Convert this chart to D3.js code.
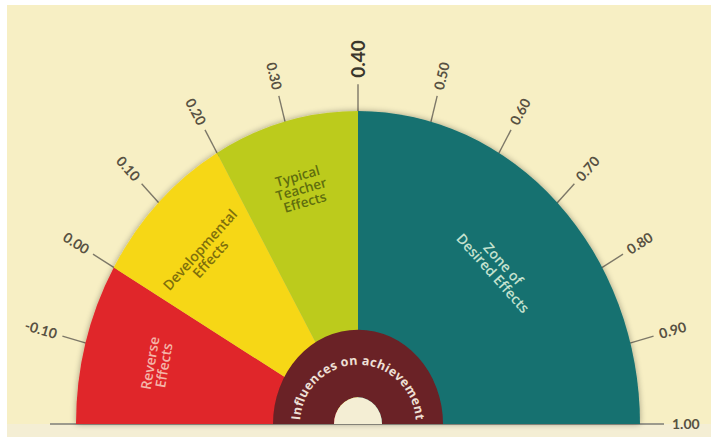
<!DOCTYPE html>
<html>
<head>
<meta charset="utf-8">
<script src="https://cdn.jsdelivr.net/npm/d3@7"></script>
<style>
  html, body { margin: 0; padding: 0; background: #ffffff; }
  svg { display: block; }
</style>
</head>
<body>
<svg id="chart" width="711" height="437"></svg>
<script>
// ---- data ----
const zoneNames = [["Reverse", "Effects"], ["Developmental", "Effects"], ["Typical", "Teacher", "Effects"], ["Zone of", "Desired Effects"]];
const zoneStart = [-0.2, 0.0, 0.2, 0.4];
const zoneEnd = [0.0, 0.2, 0.4, 1.0];
const tickValues = [-0.1, 0.0, 0.1, 0.2, 0.3, 0.4, 0.5, 0.6, 0.7, 0.8, 0.9, 1.0];
const tickLabels = ["-0.10", "0.00", "0.10", "0.20", "0.30", "0.40", "0.50", "0.60", "0.70", "0.80", "0.90", "1.00"];
const centerLabel = "Influences on achievement";

// ---- layout ----
const W = 711, H = 437;
const cx = 358, cy = 424;
const sy = 1.11;           // vertical stretch of the gauge
const R = 282, rInnerRing = 85, rHole = 24;

const svg = d3.select("#chart");
const angle = d3.scaleLinear().domain([-0.2, 1.0]).range([-Math.PI / 2, Math.PI / 2]);
const zoneColor = d3.scaleOrdinal().domain(d3.range(4)).range(["#e0262a", "#f6d716", "#bccb1e", "#17716f"]);
const zoneText = d3.scaleOrdinal().domain(d3.range(4)).range(["#f4b4a8", "#7f700c", "#5f6e0e", "#c4e2cf"]);

function pt(phi, r) { return [cx + r * Math.sin(phi), cy - r * Math.cos(phi) * sy]; }
function radialDeg(phi) { return Math.atan2(-Math.cos(phi) * sy, Math.sin(phi)) * 180 / Math.PI; }

// background
svg.append("rect").attr("width", W).attr("height", H).attr("fill", "#ffffff");
svg.append("rect").attr("x", 7).attr("y", 5).attr("width", W - 7).attr("height", H - 5).attr("fill", "#f7efc4");
svg.append("rect").attr("x", 7).attr("y", cy).attr("width", W - 7).attr("height", H - cy).attr("fill", "#f4eed4");

const defs = svg.append("defs");
const f = defs.append("filter").attr("id", "sh").attr("x", "-10%").attr("y", "-10%").attr("width", "120%").attr("height", "120%");
f.append("feGaussianBlur").attr("in", "SourceAlpha").attr("stdDeviation", 3);
f.append("feOffset").attr("dx", 0).attr("dy", 0).attr("result", "b");
f.append("feComponentTransfer").append("feFuncA").attr("type", "linear").attr("slope", 0.35);
const fm = f.append("feMerge"); fm.append("feMergeNode"); fm.append("feMergeNode").attr("in", "SourceGraphic");

// tick lines
const tickG = svg.append("g");
tickValues.forEach((v, i) => {
  const phi = angle(v);
  if (v === 1.0) return;
  const a = pt(phi, R - 4), b = pt(phi, R + 24);
  tickG.append("line").attr("x1", a[0]).attr("y1", a[1]).attr("x2", b[0]).attr("y2", b[1])
    .attr("stroke", "#7d7868").attr("stroke-width", 1.4);
});

// baseline
svg.append("line").attr("x1", 50).attr("y1", cy).attr("x2", 664).attr("y2", cy)
  .attr("stroke", "#9c9a8c").attr("stroke-width", 2);

// zones
const gauge = svg.append("g").attr("transform", `translate(${cx},${cy}) scale(1,${sy})`).attr("filter", "url(#sh)");
const arc = d3.arc();
zoneStart.forEach((s, i) => {
  gauge.append("path")
    .attr("d", arc({ innerRadius: 0, outerRadius: R, startAngle: angle(s), endAngle: angle(zoneEnd[i]) }))
    .attr("fill", zoneColor(i));
});
// inner ring
gauge.append("path")
  .attr("d", arc({ innerRadius: rHole, outerRadius: rInnerRing, startAngle: -Math.PI / 2, endAngle: Math.PI / 2 }))
  .attr("fill", "#6b2126");
gauge.append("path")
  .attr("d", arc({ innerRadius: 0, outerRadius: rHole, startAngle: -Math.PI / 2, endAngle: Math.PI / 2 }))
  .attr("fill", "#f4eed4");

// zone labels
const labelR = [208, 216, 219, 198];
const labelSize = [14, 14, 13.5, 14];
zoneNames.forEach((lines, i) => {
  const mid = (zoneStart[i] + zoneEnd[i]) / 2;
  const phi = angle(mid);
  const p = pt(phi, labelR[i]);
  const rot = phi * 180 / Math.PI * 1.07;
  const t = svg.append("text")
    .attr("transform", `translate(${p[0]},${p[1]}) rotate(${rot})`)
    .attr("text-anchor", "middle")
    .attr("font-family", "'Open Sans', sans-serif")
    .attr("font-weight", 600)
    .attr("font-size", labelSize[i])
    .attr("fill", zoneText(i));
  const lh = labelSize[i] * 1.0;
  lines.forEach((ln, j) => {
    t.append("tspan").attr("x", 0).attr("y", (j - (lines.length - 1) / 2) * lh + labelSize[i] * 0.35).text(ln);
  });
});

// tick labels
tickValues.forEach((v, i) => {
  const phi = angle(v);
  const big = Math.abs(v - 0.4) < 1e-9;
  const r = v === 1.0 ? R + 32 : R + 30;
  const p = pt(phi, r);
  const a = radialDeg(phi);
  const right = phi >= -1e-9;
  svg.append("text")
    .attr("transform", `translate(${p[0]},${p[1]}) rotate(${right ? a : a + 180})`)
    .attr("text-anchor", right ? "start" : "end")
    .attr("dy", "0.35em")
    .attr("font-family", "Lato, 'DejaVu Sans', sans-serif")
    .attr("font-weight", "bold")
    .attr("font-size", big ? 19 : 14)
    .attr("fill", big ? "#3a362c" : "#575142")
    .text(tickLabels[i]);
});

// curved center label
const rc = 58;
defs.append("path").attr("id", "cpath")
  .attr("d", `M ${cx - rc},${cy} A ${rc},${rc * 1.02} 0 0 1 ${cx + rc},${cy}`);
svg.append("text")
  .attr("font-family", "'Open Sans', sans-serif")
  .attr("font-weight", "bold")
  .attr("font-size", 12.5)
  .attr("fill", "#efe0d6")
  .append("textPath").attr("href", "#cpath").attr("startOffset", "50%").attr("text-anchor", "middle")
  .attr("textLength", 176).attr("lengthAdjust", "spacing")
  .text(centerLabel);
</script>
</body>
</html>
